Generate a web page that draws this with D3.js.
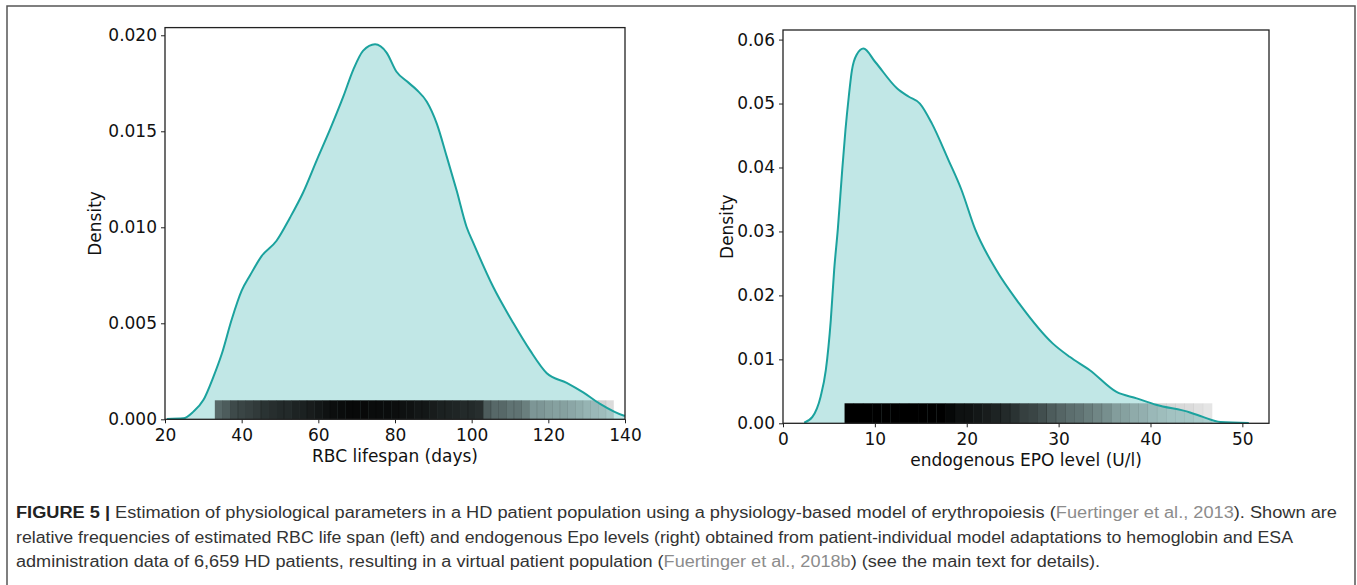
<!DOCTYPE html>
<html>
<head>
<meta charset="utf-8">
<script src="https://cdn.jsdelivr.net/npm/d3@7"></script>
<style>
  body { margin: 0; background: #fff; }
  .tick text { font-family: "DejaVu Sans", sans-serif; font-size: 17px; fill: #111; }
  .tick line { stroke: #222; }
  .axlabel { font-family: "DejaVu Sans", sans-serif; font-size: 17px; fill: #111; }
  .caption { font-family: "Liberation Sans Narrow", "Liberation Sans", sans-serif; font-size: 16px; fill: #333; }
</style>
</head>
<body>
<div id="chart"></div>
<script>
// left panel: RBC lifespan KDE
const rbcX = [20.5, 24.8, 27.4, 30, 32.6, 34.8, 37.4, 40, 42.2, 45.2, 49.1, 52.6, 56, 59.6, 63, 66.5, 69.1, 71.7, 74.8,
  77.8, 80.4, 83.1, 85.7, 88.3, 90.9, 93.5, 96.1, 98.7, 100.4, 105.6, 110.9, 115.2, 119.6, 124.8, 129.1, 133.5, 139.6, 140];
const rbcY = [0.00002, 0.00005, 0.0004, 0.001, 0.0022, 0.0034, 0.0052, 0.0067, 0.0075, 0.0085, 0.0093, 0.0105, 0.0118, 0.0135,
  0.01507, 0.0168, 0.0182, 0.0192, 0.01953, 0.0191, 0.0181, 0.0176, 0.01715, 0.01654, 0.0154, 0.01368, 0.0119, 0.0100, 0.0092,
  0.0069, 0.0050, 0.0036, 0.0024, 0.0019, 0.0014, 0.0008, 0.0002, 0.00018];
// rug darkness per 2-day bin, starting at 33
const rbcRugStart = 33, rbcRugStep = 2;
const rbcRug = [0.55, 0.6, 0.68, 0.7, 0.72, 0.75,
  0.78, 0.8, 0.82, 0.82, 0.85, 0.86, 0.88, 0.9,
  0.92, 0.94, 0.95, 0.96, 0.96, 0.96, 0.95, 0.95, 0.95, 0.94, 0.93, 0.92, 0.9, 0.9, 0.88,
  0.86, 0.85, 0.84, 0.82, 0.82, 0.8,
  0.6, 0.55, 0.55, 0.5, 0.5, 0.45,
  0.35, 0.35, 0.32, 0.3, 0.3, 0.28, 0.25, 0.22, 0.2, 0.18, 0.14];
const rbcTicksX = [20, 40, 60, 80, 100, 120, 140];
const rbcTicksY = [0, 0.005, 0.010, 0.015, 0.020];

// right panel: endogenous EPO KDE
const epoX = [2.3, 3.2, 4.1, 4.66, 5.2, 5.57, 5.97, 6.45, 6.8, 7.16, 7.5, 8.0, 8.76, 10.04, 12.4, 13.66, 14.9, 16.2, 18.0,
  19.4, 20.9, 23.2, 25.7, 29.35, 31.2, 33.4, 36.3, 38.5, 40.6, 44.3, 45.7, 47.6, 50.7];
const epoY = [0.0001, 0.001, 0.0042, 0.0083, 0.0161, 0.024, 0.0304, 0.0397, 0.0459, 0.0511, 0.0552, 0.0576, 0.0586, 0.0565,
  0.0524, 0.0511, 0.0500, 0.0469, 0.0412, 0.0366, 0.0304, 0.0240, 0.01875, 0.0125, 0.0104, 0.0083, 0.0049, 0.0039, 0.0029,
  0.0017, 0.0010, 0.0002, 0.00005];
// rug darkness per 1-unit bin, starting at 6.7
const epoRugStart = 6.7, epoRugStep = 1;
const epoRug = [1, 1, 1, 1, 1, 1, 1, 1, 1, 1, 1, 0.97, 0.93, 0.92, 0.9, 0.88, 0.85, 0.82, 0.78, 0.72, 0.7, 0.66, 0.6,
  0.56, 0.52, 0.5, 0.46, 0.42, 0.38, 0.32, 0.3, 0.26, 0.24, 0.2, 0.18, 0.16, 0.15, 0.14, 0.12, 0.1];
const epoTicksX = [0, 10, 20, 30, 40, 50];
const epoTicksY = [0, 0.01, 0.02, 0.03, 0.04, 0.05, 0.06];

const W = 1357, H = 585;
const svg = d3.select("#chart").append("svg")
  .attr("width", W).attr("height", H);

svg.append("rect").attr("width", W).attr("height", H).attr("fill", "#fff");
// outer figure frame
svg.append("rect")
  .attr("x", 7).attr("y", 6).attr("width", 1348).attr("height", 620)
  .attr("fill", "none").attr("stroke", "#555").attr("stroke-width", 1.5);

function panel(cfg) {
  const x = d3.scaleLinear().domain(cfg.xDom).range([cfg.left, cfg.right]);
  const y = d3.scaleLinear().domain(cfg.yDom).range([cfg.bottom, cfg.top]);
  const g = svg.append("g");
  const pts = cfg.xs.map((v, i) => [v, cfg.ys[i]]);

  g.append("path")
    .datum(pts)
    .attr("fill", "#c1e7e6")
    .attr("d", d3.area().x(d => x(d[0])).y0(y(0)).y1(d => y(d[1])).curve(d3.curveMonotoneX));

  // rug as shaded bins
  g.append("g").selectAll("rect")
    .data(cfg.rug)
    .join("rect")
    .attr("x", (d, i) => x(cfg.rugStart + i * cfg.rugStep))
    .attr("width", (d, i) => x(cfg.rugStart + (i + 1) * cfg.rugStep) - x(cfg.rugStart + i * cfg.rugStep) + 0.3)
    .attr("y", cfg.bottom - cfg.rugH)
    .attr("height", cfg.rugH)
    .attr("fill", "#000")
    .attr("fill-opacity", d => d);

  g.append("path")
    .datum(pts)
    .attr("fill", "none")
    .attr("stroke", "#1ba29e")
    .attr("stroke-width", 2)
    .attr("d", d3.line().x(d => x(d[0])).y(d => y(d[1])).curve(d3.curveMonotoneX));

  const ax = g.append("g").attr("transform", `translate(0,${cfg.bottom})`)
    .call(d3.axisBottom(x).tickValues(cfg.ticksX).tickSize(4).tickPadding(4).tickFormat(d3.format("d")));
  ax.select(".domain").remove();
  ax.selectAll("text").attr("dy", "0.8em");

  const ay = g.append("g").attr("transform", `translate(${cfg.left},0)`)
    .call(d3.axisLeft(y).tickValues(cfg.ticksY).tickSize(4).tickPadding(4).tickFormat(d3.format(cfg.yFmt)));
  ay.select(".domain").remove();

  g.append("rect")
    .attr("x", cfg.left).attr("y", cfg.top)
    .attr("width", cfg.right - cfg.left).attr("height", cfg.bottom - cfg.top)
    .attr("fill", "none").attr("stroke", "#222").attr("stroke-width", 1.3);

  g.append("text").attr("class", "axlabel")
    .attr("x", (cfg.left + cfg.right) / 2).attr("y", cfg.bottom + 43)
    .attr("text-anchor", "middle").text(cfg.xLabel);
  g.append("text").attr("class", "axlabel")
    .attr("transform", `translate(${cfg.yLabelX},${(cfg.top + cfg.bottom) / 2}) rotate(-90)`)
    .attr("text-anchor", "middle").text("Density");
}

panel({
  left: 165, right: 625, top: 27.6, bottom: 419.3,
  xDom: [20, 140], yDom: [0, 0.0204],
  xs: rbcX, ys: rbcY,
  rug: rbcRug, rugStart: rbcRugStart, rugStep: rbcRugStep, rugH: 19,
  ticksX: rbcTicksX, ticksY: rbcTicksY, yFmt: ".3f",
  xLabel: "RBC lifespan (days)", yLabelX: 101
});

panel({
  left: 783, right: 1269, top: 30, bottom: 423.3,
  xDom: [0, 52.9], yDom: [0, 0.0615],
  xs: epoX, ys: epoY,
  rug: epoRug, rugStart: epoRugStart, rugStep: epoRugStep, rugH: 20,
  ticksX: epoTicksX, ticksY: epoTicksY, yFmt: ".2f",
  xLabel: "endogenous EPO level (U/l)", yLabelX: 733
});

// caption
const capLines = [
  { y: 518, len: 1321, parts: [
    { t: "FIGURE 5 | ", b: true },
    { t: "Estimation of physiological parameters in a HD patient population using a physiology-based model of erythropoiesis (" },
    { t: "Fuertinger et al., 2013", ref: true },
    { t: "). Shown are" }] },
  { y: 543, len: 1277, parts: [
    { t: "relative frequencies of estimated RBC life span (left) and endogenous Epo levels (right) obtained from patient-individual model adaptations to hemoglobin and ESA" }] },
  { y: 567, len: 1084, parts: [
    { t: "administration data of 6,659 HD patients, resulting in a virtual patient population (" },
    { t: "Fuertinger et al., 2018b", ref: true },
    { t: ") (see the main text for details)." }] }
];

capLines.forEach(line => {
  const t = svg.append("text").attr("class", "caption")
    .attr("x", 16).attr("y", line.y)
    .attr("textLength", line.len).attr("lengthAdjust", "spacingAndGlyphs")
    .attr("xml:space", "preserve");
  line.parts.forEach(p => {
    t.append("tspan")
      .attr("font-weight", p.b ? "bold" : null)
      .attr("fill", p.ref ? "#8c8c8c" : (p.b ? "#222" : null))
      .text(p.t);
  });
});
</script>
</body>
</html>
